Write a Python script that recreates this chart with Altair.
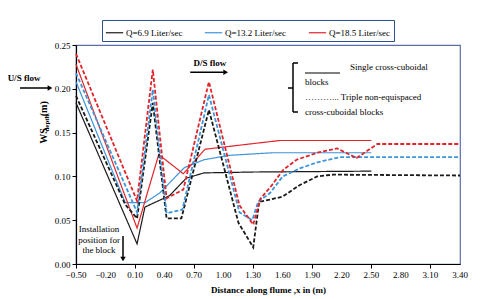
import altair as alt
import pandas as pd

# ---- data ----
SERIES = ["Q=6.9 Liter/sec", "Q=13.2 Liter/sec", "Q=18.5 Liter/sec"]
COLORS = ["#1a1a1a", "#3D95DA", "#E0242A"]

# single cross-cuboidal block (solid)
x_s69 = [-0.5, 0.12, 0.2, 0.45, 0.62, 0.8, 1.3, 2.5]
y_s69 = [0.184, 0.023, 0.065, 0.078, 0.098, 0.104, 0.105, 0.106]
x_s132 = [-0.5, 0.0, 0.2, 0.35, 0.6, 0.8, 1.05, 1.5, 2.5]
y_s132 = [0.208, 0.070, 0.070, 0.081, 0.110, 0.119, 0.124, 0.127, 0.127]
x_s185 = [-0.5, 0.12, 0.34, 0.59, 0.81, 1.57, 2.5]
y_s185 = [0.228, 0.041, 0.125, 0.103, 0.131, 0.141, 0.141]

# triple non-equispaced blocks (dashed)
x_t69 = [-0.5, 0.0, 0.12, 0.28, 0.42, 0.57, 0.85, 1.15, 1.3, 1.36, 1.49, 1.6, 1.77, 1.95, 2.11, 3.4]
y_t69 = [0.192, 0.068, 0.052, 0.184, 0.052, 0.052, 0.176, 0.047, 0.019, 0.071, 0.074, 0.077, 0.090, 0.100, 0.102, 0.101]
x_t132 = [-0.5, 0.12, 0.28, 0.42, 0.58, 0.85, 1.16, 1.29, 1.35, 1.47, 1.6, 1.77, 1.95, 2.18, 3.4]
y_t132 = [0.218, 0.059, 0.199, 0.058, 0.062, 0.193, 0.059, 0.050, 0.071, 0.081, 0.100, 0.109, 0.116, 0.122, 0.122]
x_t185 = [-0.5, 0.12, 0.28, 0.42, 0.59, 0.85, 1.16, 1.30, 1.37, 1.49, 1.6, 1.74, 1.95, 2.15, 2.35, 2.56, 3.4]
y_t185 = [0.240, 0.072, 0.222, 0.075, 0.085, 0.208, 0.067, 0.045, 0.074, 0.090, 0.107, 0.119, 0.127, 0.132, 0.121, 0.137, 0.137]

x_ticks = [-0.5, -0.2, 0.1, 0.4, 0.7, 1.0, 1.3, 1.6, 1.9, 2.2, 2.5, 2.8, 3.1, 3.4]
y_ticks = [0.0, 0.05, 0.10, 0.15, 0.20, 0.25]

FONT = "Liberation Serif"

rows = []
for q, blk, xs, ys in [
    (SERIES[0], "single", x_s69, y_s69),
    (SERIES[1], "single", x_s132, y_s132),
    (SERIES[2], "single", x_s185, y_s185),
    (SERIES[0], "triple", x_t69, y_t69),
    (SERIES[1], "triple", x_t132, y_t132),
    (SERIES[2], "triple", x_t185, y_t185),
]:
    for xv, yv in zip(xs, ys):
        rows.append({"x": xv, "y": yv, "Q": q, "block": blk})
df = pd.DataFrame(rows)

xscale = alt.Scale(domain=[-0.5, 3.4], nice=False, zero=False)
yscale = alt.Scale(domain=[0, 0.25], nice=False)

lines = alt.Chart(df).mark_line().encode(
    x=alt.X("x:Q", scale=xscale,
            axis=alt.Axis(values=x_ticks, labels=False, grid=False,
                          title="Distance along flume ,x in (m)",
                          titleFont=FONT, titleFontSize=9, titleFontWeight="bold",
                          titlePadding=17)),
    y=alt.Y("y:Q", scale=yscale,
            axis=alt.Axis(values=y_ticks, format=".2f", grid=False, title=None,
                          labelOverlap=False, labelFlush=False, labelPadding=2)),
    color=alt.Color("Q:N", scale=alt.Scale(domain=SERIES, range=COLORS),
                    legend=alt.Legend(title=None, orient="none", legendX=26, legendY=-25,
                                      direction="horizontal", symbolType="stroke",
                                      symbolSize=300, symbolStrokeWidth=1.2,
                                      labelFont=FONT, labelFontSize=9, labelColor="black",
                                      columnPadding=19, padding=3, labelOffset=2,
                                      strokeColor="#2F4F8F", fillColor="white")),
    strokeDash=alt.StrokeDash("block:N", scale=alt.Scale(domain=["single", "triple"],
                                                         range=[[1, 0], [4, 2]]), legend=None),
    strokeWidth=alt.StrokeWidth("block:N", scale=alt.Scale(domain=["single", "triple"],
                                                           range=[1.2, 1.8]), legend=None),
    detail="block:N",
)

# x tick labels drawn through the x scale (all of them)
xlab = alt.Chart(pd.DataFrame({"t": x_ticks})).mark_text(
    font=FONT, fontSize=9, color="black", baseline="top").encode(
    x=alt.X("t:Q", scale=xscale),
    y=alt.value(226),
    text=alt.Text("t:Q", format=".2f"),
)

# ---- annotations ----
txt = dict(font=FONT, fontSize=9, color="black")

ds_text = alt.Chart().mark_text(fontWeight="bold", **txt).encode(
    x=alt.datum(0.86), y=alt.datum(0.229), text=alt.value("D/S flow"))
ds_rule = alt.Chart().mark_rule(color="black", strokeWidth=1.5).encode(
    x=alt.datum(0.66), x2=alt.datum(1.0), y=alt.datum(0.219))
ds_head = alt.Chart().mark_point(shape="triangle-right", filled=True, color="black",
                                 size=30, opacity=1).encode(
    x=alt.datum(1.02), y=alt.datum(0.219))

us_text = alt.Chart().mark_text(fontWeight="bold", **txt).encode(
    x=alt.value(-52), y=alt.value(33), text=alt.value("U/S flow"))
us_rule = alt.Chart().mark_rule(color="black", strokeWidth=1.5).encode(
    x=alt.value(-56), x2=alt.value(-28), y=alt.value(43))
us_head = alt.Chart().mark_point(shape="triangle-right", filled=True, color="black",
                                 size=30, opacity=1).encode(
    x=alt.value(-26), y=alt.value(43))

inst_text = alt.Chart().mark_text(lineHeight=10.5, baseline="top", **txt).encode(
    x=alt.value(23), y=alt.value(180),
    text=alt.value(["Installation", "position for", "the block"]))
inst_rule = alt.Chart().mark_rule(color="black", strokeWidth=1.5).encode(
    x=alt.value(47), y=alt.value(191), y2=alt.value(213))
inst_head = alt.Chart().mark_point(shape="triangle-down", filled=True, color="black",
                                   size=30, opacity=1).encode(
    x=alt.value(47), y=alt.value(214))

# y-axis title with subscript
yt1 = alt.Chart().mark_text(angle=270, fontWeight="bold", font=FONT, fontSize=10,
                            color="black").encode(
    x=alt.value(-32), y=alt.value(91), text=alt.value("WS"))
yt2 = alt.Chart().mark_text(angle=270, fontWeight="bold", font=FONT, fontSize=7,
                            color="black").encode(
    x=alt.value(-29), y=alt.value(78), text=alt.value("depth"))
yt3 = alt.Chart().mark_text(angle=270, fontWeight="bold", font=FONT, fontSize=10,
                            color="black").encode(
    x=alt.value(-32), y=alt.value(65), text=alt.value(",(m)"))

# bracket and explanatory text
br_v = alt.Chart().mark_rule(color="black", strokeWidth=1.5).encode(
    x=alt.value(217), y=alt.value(18), y2=alt.value(67))
br_t = alt.Chart().mark_rule(color="black", strokeWidth=1.5).encode(
    x=alt.value(217), x2=alt.value(222), y=alt.value(18))
br_b = alt.Chart().mark_rule(color="black", strokeWidth=1.5).encode(
    x=alt.value(217), x2=alt.value(222), y=alt.value(67))
br_m = alt.Chart().mark_rule(color="black", strokeWidth=1.5).encode(
    x=alt.value(212), x2=alt.value(217), y=alt.value(43))
solid_sample = alt.Chart().mark_rule(color="black", strokeWidth=1).encode(
    x=alt.value(229), x2=alt.value(264), y=alt.value(28))

leg_lines = [
    ("Single   cross-cuboidal", 274, 22),
    ("blocks", 229, 37),
    ("………... Triple non-equispaced", 229, 52),
    ("cross-cuboidal blocks", 229, 67),
]
leg_txt = [
    alt.Chart().mark_text(align="left", **txt).encode(
        x=alt.value(xx), y=alt.value(yy), text=alt.value(s))
    for s, xx, yy in leg_lines
]

chart = alt.layer(
    lines, xlab, ds_text, ds_rule, ds_head, us_text, us_rule, us_head,
    inst_text, inst_rule, inst_head, yt1, yt2, yt3,
    br_v, br_t, br_b, br_m, solid_sample, *leg_txt,
).properties(
    width=384, height=219,
    autosize=alt.AutoSizeParams(type="none"),
    padding={"left": 68, "top": 37, "right": 12, "bottom": 36},
).configure_view(
    stroke="#5A6FA8", strokeWidth=1.2
).configure_axis(
    labelFont=FONT, labelFontSize=9, labelColor="black",
    tickColor="black", domainColor="black", tickSize=4, domainWidth=1.2,
)

chart.save("out.html", embed_options={"renderer": "svg", "actions": False})
